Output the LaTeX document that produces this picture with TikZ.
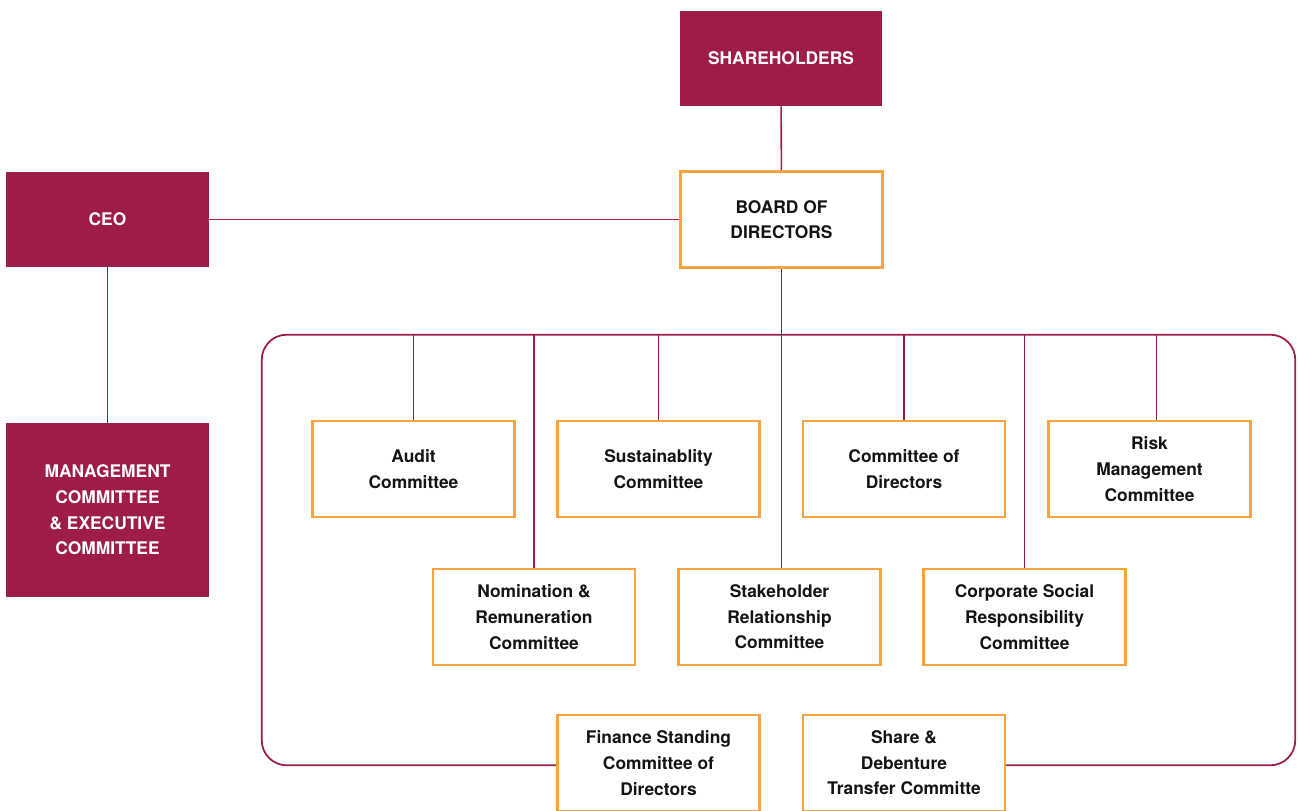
\documentclass[tikz,border=0pt]{standalone}
\usepackage{fontspec}
\setmainfont{TeX Gyre Heros}
\usepackage{tikz}
\usepackage{xcolor}
\usetikzlibrary{backgrounds,positioning}
\definecolor{maroon}{RGB}{158, 28, 72}
\definecolor{boxorange}{RGB}{248, 163, 64}
\definecolor{textdark}{RGB}{20, 20, 20}

\begin{document}
\begin{tikzpicture}[x=0.02cm, y=-0.02cm,
  headbox/.style={fill=maroon, text=white, minimum width=4.06cm, minimum height=1.9cm, align=center, font=\fontsize{9.9}{14.6}\selectfont\bfseries, inner sep=0pt},
  combox/.style={draw=boxorange, line width=1.25pt, fill=white, text=textdark, minimum width=4.04cm, minimum height=1.92cm, align=center, font=\fontsize{9.9}{14.6}\selectfont\bfseries, inner sep=0pt},
  link/.style={draw=maroon, line width=0.9pt}]
  \useasboundingbox (0,0) rectangle (1298,811);

  % Top level
  \node[headbox] (share) at (781,58.5) {SHAREHOLDERS};
  \node[combox] (board) at (781.5,219.5) {BOARD OF\\DIRECTORS};
  \node[headbox] (ceo) at (107.5,219.5) {CEO};
  \node[headbox, minimum height=3.48cm] (mgmt) at (107.5,510) {MANAGEMENT\\COMMITTEE\\\& EXECUTIVE\\COMMITTEE};

  % Frame round the committees (only used for its corners)
  \node[minimum width=20.66cm, minimum height=8.6cm, inner sep=0pt] (frame) at (778.5,550) {};

  % First row of committees
  \node[combox] (audit) at (413.5,469) {Audit\\Committee};
  \node[combox] (sustain) at (658.5,469) {Sustainablity\\Committee};
  \node[combox] (cod) at (904,469) {Committee of\\Directors};
  \node[combox] (risk) at (1149.5,469) {Risk\\Management\\Committee};

  % Second row
  \node[combox] (nomin) at (534,617) {Nomination \&\\Remuneration\\Committee};
  \node[combox] (stake) at (779.5,617) {Stakeholder\\Relationship\\Committee};
  \node[combox] (csr) at (1024.5,617) {Corporate Social\\Responsibility\\Committee};

  % Bottom row (on the frame)
  \node[combox] (finance) at (658.5,763) {Finance Standing\\Committee of\\Directors};
  \node[combox] (sharetr) at (904,763) {Share \&\\Debenture\\Transfer Committe};

  % Connectors
  \begin{scope}[on background layer]
    \draw[link, line width=1pt, rounded corners=0.5cm] (finance.west |- frame.south) -- (frame.south west) -- (frame.north west) -- (frame.north east) -- (frame.south east) -- (sharetr.east |- frame.south);
    \draw[link] (share) -- (board);
    \draw[link] (ceo) -- (board);
    \draw[link] (ceo) -- (mgmt);
    \draw[link] (board.south) -- (board.south |- stake.north);
    \foreach \c in {audit,sustain,cod,nomin,csr}
      \draw[link] (\c.north |- frame.north) -- (\c.north);
    \draw[link] ([xshift=0.14cm]risk.north |- frame.north) -- ([xshift=0.14cm]risk.north);
  \end{scope}
\end{tikzpicture}
\end{document}
